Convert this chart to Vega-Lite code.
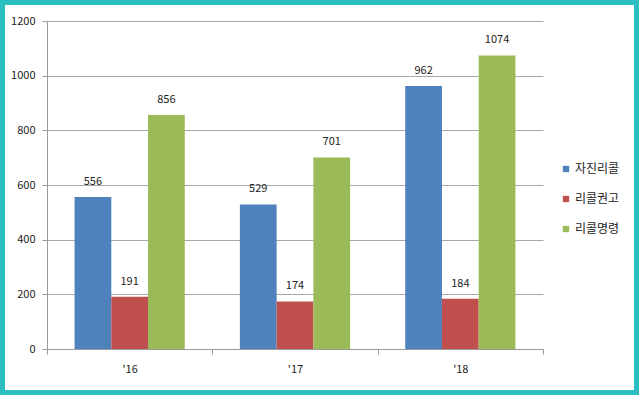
{
  "$schema": "https://vega.github.io/schema/vega-lite/v6.json",
  "width": 639,
  "height": 395,
  "autosize": {"type": "none"},
  "padding": 0,
  "background": "white",
  "data": {
    "values": [
      {"year": "'16", "type": "자진리콜", "value": 556},
      {"year": "'16", "type": "리콜권고", "value": 191},
      {"year": "'16", "type": "리콜명령", "value": 856},
      {"year": "'17", "type": "자진리콜", "value": 529},
      {"year": "'17", "type": "리콜권고", "value": 174},
      {"year": "'17", "type": "리콜명령", "value": 701},
      {"year": "'18", "type": "자진리콜", "value": 962},
      {"year": "'18", "type": "리콜권고", "value": 184},
      {"year": "'18", "type": "리콜명령", "value": 1074}
    ]
  },
  "encoding": {
    "x": {
      "field": "year",
      "type": "nominal",
      "sort": null,
      "scale": {"range": [47, 543], "paddingInner": 0, "paddingOuter": 0},
      "axis": {
        "title": null,
        "offset": -46,
        "labelAngle": 0,
        "tickBand": "extent",
        "tickSize": 5,
        "labelPadding": 9,
        "domainColor": "#9a9a9a",
        "tickColor": "#9a9a9a",
        "labelFont": "Noto Sans CJK KR",
        "labelFontSize": 11,
        "labelColor": "#222222",
        "grid": false
      }
    },
    "xOffset": {
      "field": "type",
      "type": "nominal",
      "sort": ["자진리콜", "리콜권고", "리콜명령"],
      "scale": {"paddingInner": 0, "paddingOuter": 0.75}
    },
    "y": {
      "field": "value",
      "type": "quantitative",
      "scale": {"domain": [0, 1200], "range": [349, 21], "nice": false},
      "axis": {
        "title": null,
        "offset": -47,
        "format": "d",
        "values": [0, 200, 400, 600, 800, 1000, 1200],
        "tickSize": 5,
        "labelPadding": 7,
        "domainColor": "#9a9a9a",
        "tickColor": "#9a9a9a",
        "gridColor": "#a8a8a8",
        "labelFont": "Noto Sans CJK KR",
        "labelFontSize": 11,
        "labelColor": "#222222"
      }
    }
  },
  "layer": [
    {
      "mark": {"type": "bar"},
      "encoding": {
        "color": {
          "field": "type",
          "type": "nominal",
          "scale": {
            "domain": ["자진리콜", "리콜권고", "리콜명령"],
            "range": ["#4f81bd", "#c0504d", "#9bbb59"]
          },
          "legend": {
            "title": null,
            "orient": "none",
            "legendX": 560,
            "legendY": 163,
            "symbolType": "square",
            "symbolSize": 40,
            "symbolStrokeWidth": 0,
            "labelFont": "Noto Sans CJK KR",
            "labelFontSize": 12,
            "labelColor": "#222222",
            "rowPadding": 18,
            "labelOffset": 3
          }
        }
      }
    },
    {
      "mark": {
        "type": "text",
        "baseline": "middle",
        "dy": -15,
        "font": "Noto Sans CJK KR",
        "fontSize": 11,
        "color": "#222222"
      },
      "encoding": {
        "text": {"field": "value", "type": "quantitative"}
      }
    }
  ],
  "config": {
    "view": {"fill": "white", "stroke": "#2cbfc1", "strokeWidth": 10, "cornerRadius": 2}
  }
}
